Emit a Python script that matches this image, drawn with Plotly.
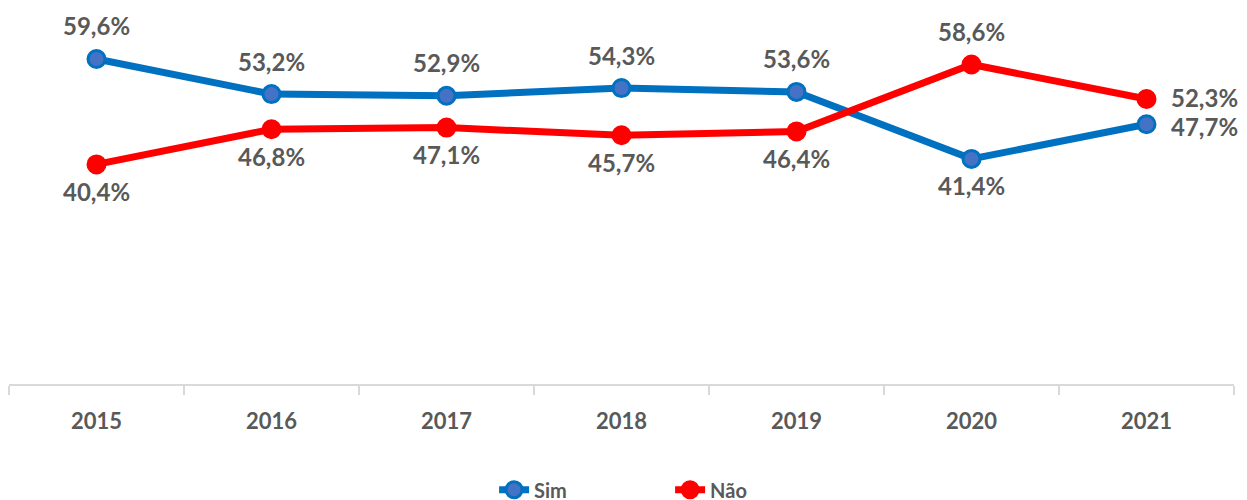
import plotly.graph_objects as go

years = ["2015", "2016", "2017", "2018", "2019", "2020", "2021"]
sim = [59.6, 53.2, 52.9, 54.3, 53.6, 41.4, 47.7]
nao = [40.4, 46.8, 47.1, 45.7, 46.4, 58.6, 52.3]
sim_pos = ["above"] * 5 + ["below", "right"]
nao_pos = ["below"] * 5 + ["above", "right"]

def fmt(v):
    return f"{v:.1f}%".replace(".", ",")

font_fam = "Lato, 'Open Sans', sans-serif"
label_font = dict(family=font_fam, size=24, color="#595959")

fig = go.Figure()
fig.add_trace(go.Scatter(
    x=years, y=sim, name="<b>Sim</b>", mode="lines+markers",
    line=dict(color="#0070C0", width=7),
    marker=dict(size=17, color="#4472C4", line=dict(color="#0070C0", width=3)),
    cliponaxis=False,
))
fig.add_trace(go.Scatter(
    x=years, y=nao, name="<b>Não</b>", mode="lines+markers",
    line=dict(color="#FF0000", width=7),
    marker=dict(size=17, color="#FF0000", line=dict(color="#FF0000", width=3)),
    cliponaxis=False,
))

annotations = []
def add_labels(vals, positions, right_shift):
    for i, (v, p) in enumerate(zip(vals, positions)):
        kw = dict(x=i, y=v, xref="x", yref="y", text="<b>" + fmt(v) + "</b>",
                  showarrow=False, font=label_font)
        if p == "above":
            kw.update(yshift=33)
        elif p == "below":
            kw.update(yshift=-27)
        else:
            kw.update(xanchor="left", xshift=22, yshift=right_shift)
        annotations.append(kw)

add_labels(sim, sim_pos, -2)
add_labels(nao, nao_pos, 2)

fig.update_layout(
    width=1247, height=500,
    margin=dict(l=1, r=21, t=1, b=124, autoexpand=False),
    plot_bgcolor="white", paper_bgcolor="white",
    font=dict(family=font_fam, color="#595959"),
    showlegend=True,
    annotations=annotations,
    legend=dict(orientation="h", x=0.396, xanchor="left", y=-0.23, yanchor="top",
                font=dict(size=20, color="#595959"),
                entrywidth=131, entrywidthmode="pixels"),
    xaxis=dict(type="category", range=[-0.5, 6.5], tickson="boundaries",
               ticks="outside", ticklen=9, tickcolor="#D9D9D9", tickwidth=2,
               showline=True, linecolor="#D9D9D9", linewidth=2, showgrid=False,
               tickfont=dict(size=22, color="#595959"),
               tickprefix="<b>", ticksuffix="</b>",
               ticklabelstandoff=17),
    yaxis=dict(range=[0.4, 68.7], visible=False, showgrid=False, zeroline=False),
)
fig.write_html("out.html")
